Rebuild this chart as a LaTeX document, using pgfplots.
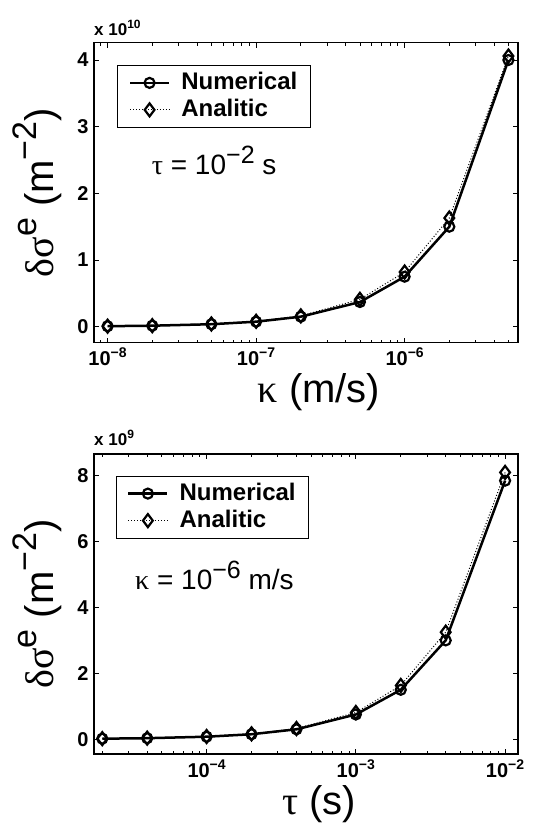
\documentclass[border=0pt]{standalone}
\usepackage{pgfplots}
\pgfplotsset{compat=1.18}
\usepackage{fontspec}
\setmainfont{Liberation Sans}
\newfontfamily\grk{Liberation Serif}
\newcommand{\fs}[1]{\fontsize{#1bp}{#1bp}\selectfont}
\newcommand{\up}[3]{\raisebox{#1}{\fs{#2}#3}}
% tick label 10^n
\newcommand{\tl}[1]{10\up{8bp}{14}{#1}}

\pgfplotsset{
  mfig/.style={
    scale only axis, width=424bp, height=300bp, anchor=south west,
    clip=false,
    tick align=inside, major tick length=5bp, minor tick length=3bp,
    axis line style={line width=1.2bp},
    every tick/.style={black, line width=0.8bp},
    tick label style={font=\bfseries\fs{20}},
    xticklabel style={yshift=-2bp},
    yticklabel style={xshift=-2bp},
    legend cell align=left,
    legend style={draw=black, line width=1bp, font=\bfseries\fs{24},
      inner xsep=11bp, inner ysep=4bp, row sep=0bp, column sep=9bp,
      nodes={inner sep=2bp, text height=18bp, text depth=5bp}},
    legend image code/.code={\draw[mark repeat=2,mark phase=2]
      plot coordinates {(0bp,0bp) (19.5bp,0bp) (39bp,0bp)};},
    xlabel style={at={(axis description cs:0.5,0)}, anchor=base, yshift=-60bp, xshift=13bp, font=\fs{40}},
    ylabel style={at={(axis description cs:-0.0955,0.5)}, rotate=0, anchor=base, font=\fs{40}},
  },
  num/.style={black, line width=2.5bp, mark=o, mark size=5bp,
    mark options={line width=2.2bp, solid}},
  ana/.style={black, line width=1bp, dotted, mark=diamond, mark size=6.5bp,
    mark options={line width=2.2bp, solid}},
}

\begin{document}
\begin{tikzpicture}
\path[use as bounding box] (0bp,0bp) rectangle (537bp,829bp);

% top: sigma vs kappa
\begin{semilogxaxis}[mfig, at={(94bp,486.3bp)},
  xmin=8.1e-9, xmax=5.8e-6, ymin=-0.24, ymax=4.26,
  xtick={1e-8,1e-7,1e-6}, xticklabels={\tl{−8},\tl{−7},\tl{−6}},
  minor xtick={9e-9,2e-8,3e-8,4e-8,5e-8,6e-8,7e-8,8e-8,9e-8,2e-7,3e-7,4e-7,5e-7,6e-7,7e-7,8e-7,9e-7,2e-6,3e-6,4e-6,5e-6},
  ytick={0,1,2,3,4}, yticklabels={0,1,2,3,4},
  xlabel={{\grk κ} (m/s)},
  ylabel={{\grk δσ}\up{17bp}{34}{e} (m\up{17bp}{34}{−2})},
  legend style={at={(0.055,0.926)}, anchor=north west},
]
\addplot[num] coordinates {
  (1e-8,0.0075) (2e-8,0.015) (5e-8,0.037) (1e-7,0.075) (2e-7,0.15)
  (5e-7,0.37) (1e-6,0.75) (2e-6,1.50) (5e-6,4.00)};
\addlegendentry{Numerical}
\addplot[ana] coordinates {
  (1e-8,0.0081) (2e-8,0.016) (5e-8,0.041) (1e-7,0.081) (2e-7,0.162)
  (5e-7,0.41) (1e-6,0.82) (2e-6,1.63) (5e-6,4.06)};
\addlegendentry{Analitic}
\node[anchor=south west, font=\bfseries\fs{17}, inner sep=0pt] at (rel axis cs:0,1) [yshift=7bp] {x 10\up{7bp}{12}{10}};
\node[anchor=base west, font=\fs{28}, inner sep=0pt] at (rel axis cs:0.136,0.562) {{\grk τ} = 10\up{11bp}{25}{−2} s};
\end{semilogxaxis}

% bottom: sigma vs tau
\begin{semilogxaxis}[mfig, at={(94bp,75bp)},
  xmin=1.76e-5, xmax=1.22e-2, ymin=-0.45, ymax=8.66,
  xtick={1e-4,1e-3,1e-2}, xticklabels={\tl{−4},\tl{−3},\tl{−2}},
  minor xtick={2e-5,3e-5,4e-5,5e-5,6e-5,7e-5,8e-5,9e-5,2e-4,3e-4,4e-4,5e-4,6e-4,7e-4,8e-4,9e-4,2e-3,3e-3,4e-3,5e-3,6e-3,7e-3,8e-3,9e-3},
  ytick={0,2,4,6,8}, yticklabels={0,2,4,6,8},
  xlabel={{\grk τ} (s)},
  ylabel={{\grk δσ}\up{17bp}{34}{e} (m\up{17bp}{34}{−2})},
  legend style={at={(0.051,0.928)}, anchor=north west},
]
\addplot[num] coordinates {
  (2e-5,0.015) (4e-5,0.03) (1e-4,0.075) (2e-4,0.15) (4e-4,0.30)
  (1e-3,0.75) (2e-3,1.50) (4e-3,3.00) (1e-2,7.85)};
\addlegendentry{Numerical}
\addplot[ana] coordinates {
  (2e-5,0.016) (4e-5,0.032) (1e-4,0.081) (2e-4,0.162) (4e-4,0.325)
  (1e-3,0.81) (2e-3,1.63) (4e-3,3.25) (1e-2,8.10)};
\addlegendentry{Analitic}
\node[anchor=south west, font=\bfseries\fs{17}, inner sep=0pt] at (rel axis cs:0,1) [yshift=8bp] {x 10\up{7bp}{12}{9}};
\node[anchor=base west, font=\fs{28}, inner sep=0pt] at (rel axis cs:0.0967,0.549) {{\grk κ} = 10\up{11bp}{25}{−6} m/s};
\end{semilogxaxis}
\end{tikzpicture}
\end{document}
